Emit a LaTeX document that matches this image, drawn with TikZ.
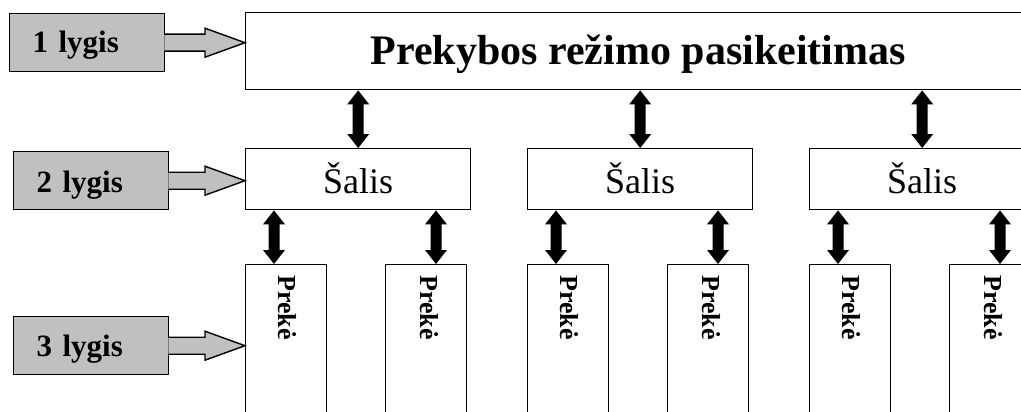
\documentclass[tikz,border=0pt]{standalone}
\usepackage{fontspec}
\setmainfont{Liberation Serif}
\usetikzlibrary{calc}
\definecolor{lgray}{RGB}{192,192,192}
\newcommand{\dblarr}[2]{%
  \fill let \p1=(#1), \p2=(#2) in
  (\x1,\y1) -- (\x1+11pt,\y1-14pt) -- (\x1+5.5pt,\y1-14pt) -- (\x1+5.5pt,\y2+14pt)
  -- (\x1+11pt,\y2+14pt) -- (\x1,\y2) -- (\x1-11pt,\y2+14pt) -- (\x1-5.5pt,\y2+14pt)
  -- (\x1-5.5pt,\y1-14pt) -- (\x1-11pt,\y1-14pt) -- cycle;}
\newcommand{\blockarr}[2]{%
  \draw[blockarrow] let \p1=(#1), \p2=(#2) in
  (\x1-1pt,\y1+8.5pt) -- (\x2-40pt,\y1+8.5pt) -- (\x2-40pt,\y1+14.5pt) -- (\x2,\y1)
  -- (\x2-40pt,\y1-14.5pt) -- (\x2-40pt,\y1-8.5pt) -- (\x1-1pt,\y1-8.5pt);}
\tikzset{
  box/.style={draw, line width=1.4pt, inner sep=0pt, anchor=north west},
  titlebox/.style={box, minimum width=785pt, minimum height=77pt,
    font=\fontsize{42}{50}\selectfont\bfseries, text height=27pt, text depth=0pt},
  salisbox/.style={box, minimum width=225pt, minimum height=61pt,
    font=\fontsize{36}{43}\selectfont, text height=29pt, text depth=0pt},
  prekebox/.style={box, minimum width=81pt, minimum height=180pt},
  preketext/.style={rotate=-90, anchor=base west, inner sep=0pt,
    font=\fontsize{26}{31}\selectfont\bfseries},
  lvl/.style={draw, line width=1.4pt, fill=lgray, anchor=north west,
    minimum height=58pt, text width=109pt, inner xsep=23pt, align=left,
    font=\fontsize{31}{37}\selectfont\bfseries, text depth=0pt},
  blockarrow/.style={draw, fill=lgray, line width=1.4pt, line join=miter},
}
\begin{document}
\begin{tikzpicture}[x=1pt, y=-1pt]
\clip (0,0) rectangle (1021,412);
\fill[white] (0,0) rectangle (1021,412);
% level labels
\node[lvl, text height=20pt] (l1) at (9,13) {1 lygis};
\node[lvl, text height=24pt] (l2) at (13,151) {2 lygis};
\node[lvl, text height=21pt] (l3) at (13,316) {3 lygis};
% title
\node[titlebox] (top) at (245,12) {Prekybos režimo pasikeitimas};
% countries
\node[salisbox] (s1) at (245,148) {Šalis};
\node[salisbox] (s2) at (527,148) {Šalis};
\node[salisbox] (s3) at (809,148) {Šalis};
% goods
\foreach \i/\L in {1/245, 2/527, 3/809}{
  \node[prekebox] (p\i1) at (\L,264) {};
  \node[prekebox] (p\i2) at (\L+140,264) {};
  \node[preketext] (t\i1) at ($(p\i1.north west)+(33,11)$) {Prekė};
  \node[preketext] (t\i2) at ($(p\i2.north west)+(35,11)$) {Prekė};
}
% block arrows
\blockarr{l1.east}{top.west}
\blockarr{l2.east}{s1.west}
\blockarr{l3.east}{p11.west}
% double arrows
\foreach \i in {1,2,3}{
  \dblarr{top.south -| s\i.north}{s\i.north}
  \dblarr{$(s\i.south west)+(29,0)$}{p\i1.north}
  \dblarr{$(s\i.south west)+(191,0)$}{p\i2.north}
}
\end{tikzpicture}
\end{document}
